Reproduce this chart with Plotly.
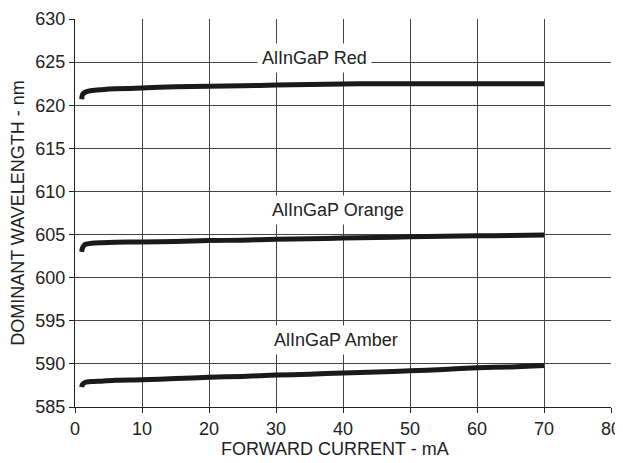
import plotly.graph_objects as go

current_ma = [1, 1.1, 1.5, 2.5, 4, 6, 10, 15, 20, 25, 30, 35, 40, 45, 50, 55, 60, 65, 70]
red_nm = [620.7, 621.2, 621.5, 621.7, 621.8, 621.9, 622.0, 622.15, 622.2, 622.25, 622.35, 622.4, 622.45, 622.5, 622.5, 622.5, 622.5, 622.5, 622.5]
orange_nm = [603.0, 603.4, 603.85, 604.0, 604.05, 604.1, 604.15, 604.2, 604.3, 604.35, 604.45, 604.5, 604.6, 604.65, 604.75, 604.8, 604.85, 604.9, 604.95]
amber_nm = [587.3, 587.6, 587.85, 587.95, 588.0, 588.1, 588.15, 588.3, 588.45, 588.55, 588.7, 588.8, 588.95, 589.05, 589.2, 589.35, 589.55, 589.65, 589.8]

labels = ["AlInGaP Red", "AlInGaP Orange", "AlInGaP Amber"]
label_x = [35.7, 39.3, 39.0]
label_y = [625.5, 607.85, 592.75]

font = "Liberation Sans, Arial, sans-serif"
fs = 18
fig = go.Figure()
for ys in (red_nm, orange_nm, amber_nm):
    fig.add_trace(go.Scatter(x=current_ma, y=ys, mode="lines",
                             line=dict(color="#1a1a1a", width=5, shape="spline", smoothing=0.6),
                             showlegend=False, hoverinfo="skip"))

for t, lx, ly in zip(labels, label_x, label_y):
    fig.add_annotation(x=lx, y=ly, text=t, showarrow=False, bgcolor="white",
                       borderpad=4, font=dict(family=font, size=fs, color="#222"))

fig.add_annotation(x=0.485, y=0, xref="paper", yref="paper", yanchor="top", yshift=-30,
                   text="FORWARD CURRENT - mA", showarrow=False,
                   font=dict(family=font, size=fs, color="#222"))

axis_common = dict(showgrid=True, gridcolor="#444", gridwidth=1, showline=True,
                   linecolor="#222", linewidth=1.2, ticks="outside", ticklen=5,
                   tickcolor="#222", zeroline=False, automargin=False,
                   ticklabeloverflow="allow",
                   tickfont=dict(family=font, size=fs, color="#222"))
fig.update_xaxes(range=[0, 80], dtick=10, tick0=0, **axis_common)
fig.update_yaxes(range=[585, 630], dtick=5, tick0=585,
                 title=dict(text="DOMINANT WAVELENGTH - nm", font=dict(family=font, size=fs, color="#222"), standoff=8),
                 **axis_common)
fig.update_layout(width=615, height=455, margin=dict(l=67, r=12, t=11, b=56),
                  plot_bgcolor="white", paper_bgcolor="white")
fig.write_html("out.html")
